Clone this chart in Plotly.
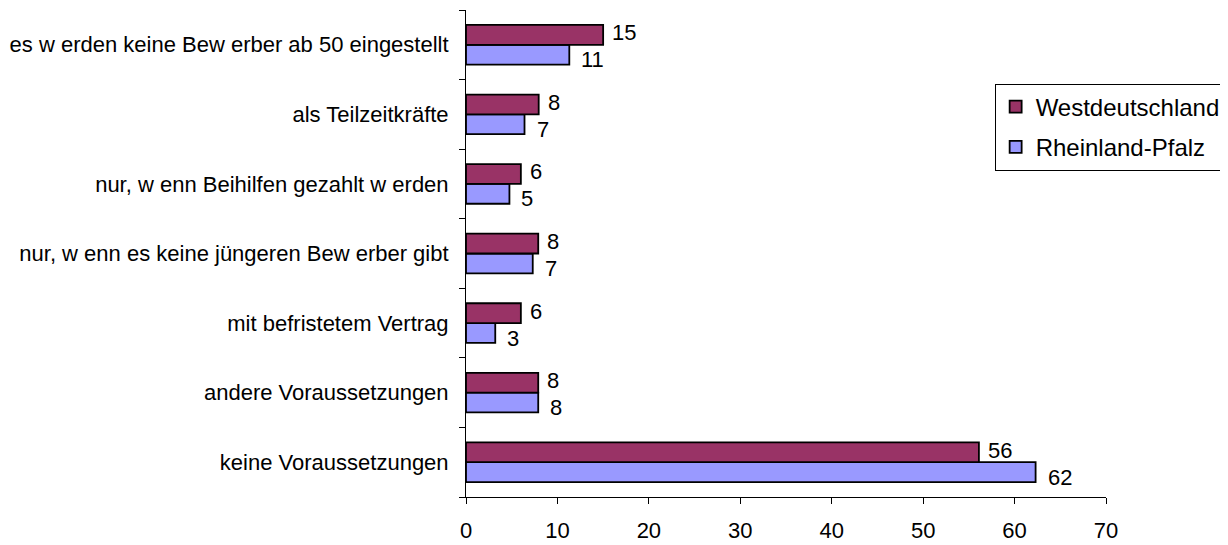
import plotly.graph_objects as go

# Categories, bottom to top
categories = [
    "keine Voraussetzungen",
    "andere Voraussetzungen",
    "mit befristetem Vertrag",
    "nur, w enn es keine jüngeren Bew erber gibt",
    "nur, w enn Beihilfen gezahlt w erden",
    "als Teilzeitkräfte",
    "es w erden keine Bew erber ab 50 eingestellt",
]
westdeutschland = [56.1, 7.9, 6.0, 7.9, 6.0, 7.95, 15.0]
rheinland_pfalz = [62.3, 7.9, 3.2, 7.3, 4.75, 6.4, 11.3]
west_labels = ["56", "8", "6", "8", "6", "8", "15"]
rlp_labels = ["62", "8", "3", "7", "5", "7", "11"]
x_ticks = [0, 10, 20, 30, 40, 50, 60, 70]

FONT = "Liberation Sans, Arial, sans-serif"

fig = go.Figure()
fig.add_trace(go.Bar(
    y=categories, x=rheinland_pfalz, orientation="h", name="Rheinland-Pfalz",
    marker=dict(color="#9999FF", line=dict(color="black", width=1.8)),
    legendrank=2, legendgroup="rlp",
))
fig.add_trace(go.Bar(
    y=categories, x=westdeutschland, orientation="h", name="Westdeutschland",
    marker=dict(color="#993366", line=dict(color="black", width=1.8)),
    legendrank=1, legendgroup="west",
))

annotations = []
for cat, v, lab in zip(categories, westdeutschland, west_labels):
    annotations.append(dict(
        x=v, y=cat, xref="x", yref="y", text=lab, showarrow=False,
        xanchor="left", yanchor="middle", xshift=7, yshift=12,
        font=dict(size=22, color="black", family=FONT),
    ))
for cat, v, lab in zip(categories, rheinland_pfalz, rlp_labels):
    annotations.append(dict(
        x=v, y=cat, xref="x", yref="y", text=lab, showarrow=False,
        xanchor="left", yanchor="middle", xshift=10, yshift=-15,
        font=dict(size=22, color="black", family=FONT),
    ))

fig.update_layout(
    width=1220, height=537,
    margin=dict(l=447, r=119, t=2, b=44),
    paper_bgcolor="white", plot_bgcolor="white",
    barmode="group", bargap=0.43, bargroupgap=0,
    font=dict(family=FONT, size=22, color="black"),
    showlegend=True,
    annotations=annotations,
    legend=dict(
        x=0.826, y=0.849, xanchor="left", yanchor="top",
        bordercolor="black", borderwidth=1, bgcolor="white",
        font=dict(size=24, family=FONT), tracegroupgap=6, itemwidth=30,
    ),
)
fig.update_xaxes(
    range=[0, 70], tickvals=x_ticks, ticktext=[str(v) for v in x_ticks],
    showline=True, linecolor="black", linewidth=1,
    ticks="outside", ticklen=6, tickcolor="black",
    showgrid=False, zeroline=False, tickfont=dict(size=22),
    ticklabelstandoff=8,
)
fig.update_yaxes(
    categoryorder="array", categoryarray=categories,
    showline=True, linecolor="black", linewidth=1,
    ticks="outside", ticklen=6, tickcolor="black", tickson="boundaries",
    showgrid=False, tickfont=dict(size=22), ticklabelstandoff=12,
)

fig.write_html("out.html")
